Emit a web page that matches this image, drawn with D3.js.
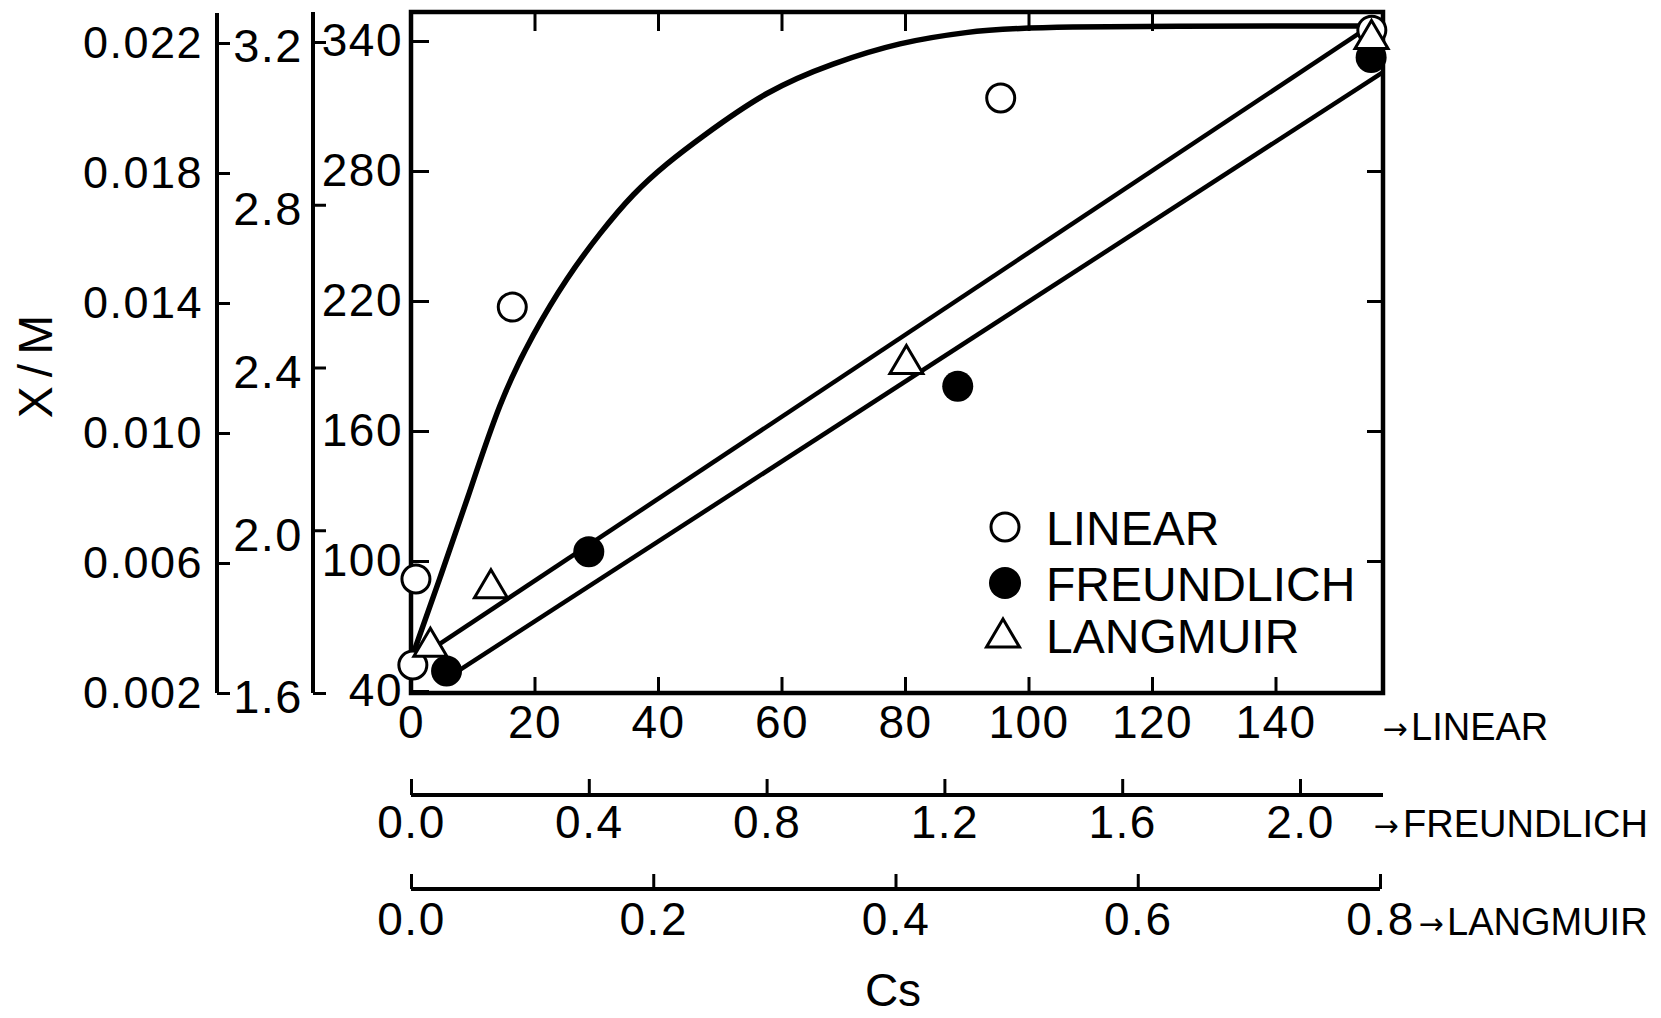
<!DOCTYPE html>
<html lang="en">
<head>
<meta charset="utf-8">
<title>X/M vs Cs isotherms</title>
<script src="https://cdn.jsdelivr.net/npm/d3@7"></script>
<style>
  body { margin: 0; background: #fff; }
  text { font-family: "Liberation Sans", Arial, sans-serif; fill: #000; }
</style>
</head>
<body>
<script>
// --- data ---
var seriesNames = ["LINEAR", "FREUNDLICH", "LANGMUIR"];

// linear: Cs 0-140, X/M 40-340
var linearCs = [0.3, 0.8, 16.4, 95.5, 155.6];
var linearXM = [52, 91.7, 217.2, 313.7, 345];
var linearCurveCs = [0.16, 4.7, 9.1, 14.4, 19.8, 25.3, 30.6, 36.0, 41.5, 46.8, 57.7, 68.3, 79.2, 90.0, 99.9, 153.4];
var linearCurveXM = [55.7, 92.2, 128.2, 174.3, 205.2, 231.1, 251.4, 269.8, 283.7, 295.2, 317.4, 329.8, 339.5, 344.2, 346.9, 346.9];

// freundlich: Cs 0-2.0, X/M 1.6-3.2
var freundlichCs = [0.08, 0.40, 1.23, 2.16];
var freundlichXM = [1.654, 1.947, 2.354, 3.162];
var freundlichFitCs = [0.103, 2.187];
var freundlichFitXM = [1.652, 3.126];

// langmuir: Cs 0-0.8, X/M 0.002-0.022
var langmuirCs = [0.016, 0.066, 0.409, 0.793];
var langmuirXM = [0.0035, 0.0053, 0.0122, 0.0222];
var langmuirFitCs = [0.020, 0.782];
var langmuirFitXM = [0.00342, 0.02228];

// tick values
var linearXTicks = [0, 20, 40, 60, 80, 100, 120, 140];
var linearYTicks = [40, 100, 160, 220, 280, 340];
var freundlichXTicks = [0, 0.4, 0.8, 1.2, 1.6, 2.0];
var freundlichYTicks = [1.6, 2.0, 2.4, 2.8, 3.2];
var langmuirXTicks = [0, 0.2, 0.4, 0.6, 0.8];
var langmuirYTicks = [0.002, 0.006, 0.010, 0.014, 0.018, 0.022];

var w = 1661, h = 1018;
var plotLeft = 411, plotRight = 1383, plotTop = 12, plotBottom = 693;

var xLin = d3.scaleLinear().domain([0, 140]).range([plotLeft, 1275.5]);
var yLin = d3.scaleLinear().domain([40, 340]).range([691, 41]);
var xFr = d3.scaleLinear().domain([0, 2.0]).range([plotLeft, 1300]);
var yFr = d3.scaleLinear().domain([1.6, 3.2]).range([693, 42]);
var xLa = d3.scaleLinear().domain([0, 0.8]).range([plotLeft, 1380]);
var yLa = d3.scaleLinear().domain([0.002, 0.022]).range([693, 43]);

var svg = d3.select("body").append("svg")
  .attr("width", w)
  .attr("height", h);

function styleAxis(g, fs) {
  g.attr("font-family", null).attr("font-size", null);
  g.select(".domain").remove();
  g.selectAll(".tick line").attr("stroke", "#000").attr("stroke-width", 3);
  g.selectAll(".tick text")
    .style("font-size", fs + "px")
    .style("letter-spacing", "1.5px");
}

// main frame axes
svg.append("g")
  .attr("transform", "translate(" + plotLeft + ",0)")
  .call(d3.axisLeft(yLin).tickValues(linearYTicks).tickSize(-18).tickPadding(8).tickFormat(d3.format("d")))
  .call(styleAxis, 46);

svg.append("g")
  .attr("transform", "translate(0," + plotBottom + ")")
  .call(d3.axisBottom(xLin).tickValues(linearXTicks).tickSize(-16).tickPadding(12).tickFormat(d3.format("d")))
  .call(styleAxis, 46);

svg.append("g")
  .attr("transform", "translate(0," + plotTop + ")")
  .call(d3.axisTop(xLin).tickValues(linearXTicks.filter(function(d) { return d > 0 && d < 140; })).tickSize(-19).tickFormat(""))
  .call(styleAxis, 46);

svg.append("g")
  .attr("transform", "translate(" + plotRight + ",0)")
  .call(d3.axisRight(yLin).tickValues(linearYTicks.filter(function(d) { return d > 40 && d < 340; })).tickSize(-16).tickFormat(""))
  .call(styleAxis, 46);

svg.append("rect")
  .attr("x", plotLeft).attr("y", plotTop)
  .attr("width", plotRight - plotLeft).attr("height", plotBottom - plotTop)
  .attr("fill", "none").attr("stroke", "#000").attr("stroke-width", 4.5);

// freundlich y axis
var gFy = svg.append("g")
  .attr("transform", "translate(313,0)")
  .call(d3.axisLeft(yFr).tickValues(freundlichYTicks).tickSize(-13).tickPadding(10).tickFormat(d3.format(".1f")))
  .call(styleAxis, 47);
gFy.append("line").attr("x1", 0).attr("x2", 0).attr("y1", 12).attr("y2", 693)
  .attr("stroke", "#000").attr("stroke-width", 4);
gFy.selectAll(".tick text").attr("dy", "0.42em");

// langmuir y axis
var gLy = svg.append("g")
  .attr("transform", "translate(217,0)")
  .call(d3.axisLeft(yLa).tickValues(langmuirYTicks).tickSize(-13).tickPadding(14).tickFormat(d3.format(".3f")))
  .call(styleAxis, 45);
gLy.append("line").attr("x1", 0).attr("x2", 0).attr("y1", 13).attr("y2", 693)
  .attr("stroke", "#000").attr("stroke-width", 4);

// freundlich x axis
var gFx = svg.append("g")
  .attr("transform", "translate(0,795)")
  .call(d3.axisBottom(xFr).tickValues(freundlichXTicks).tickSize(-16).tickPadding(10).tickFormat(d3.format(".1f")))
  .call(styleAxis, 46);
gFx.append("line").attr("x1", plotLeft).attr("x2", plotRight).attr("y1", 0).attr("y2", 0)
  .attr("stroke", "#000").attr("stroke-width", 4);

// langmuir x axis
var gLx = svg.append("g")
  .attr("transform", "translate(0,889)")
  .call(d3.axisBottom(xLa).tickValues(langmuirXTicks).tickSize(-15).tickPadding(13).tickFormat(d3.format(".1f")))
  .call(styleAxis, 46);
gLx.append("line").attr("x1", plotLeft).attr("x2", 1380).attr("y1", 0).attr("y2", 0)
  .attr("stroke", "#000").attr("stroke-width", 4);

// axis suffixes
var suffixX = [1395, 1386, 1431];
var suffixWordX = [1411, 1403, 1447];
var suffixY = [740, 837, 935];
seriesNames.forEach(function(name, i) {
  svg.append("text").attr("x", suffixX[i]).attr("y", suffixY[i] - 1)
    .attr("text-anchor", "middle")
    .style("font-family", "'DejaVu Sans', sans-serif")
    .style("font-size", "30px").text("\u2192");
  svg.append("text").attr("x", suffixWordX[i]).attr("y", suffixY[i])
    .style("font-size", "38px").text(name);
});

// titles
svg.append("text")
  .attr("x", 893).attr("y", 1006)
  .attr("text-anchor", "middle")
  .style("font-size", "46px")
  .text("Cs");

svg.append("text")
  .attr("transform", "translate(52,362) rotate(-90)")
  .attr("text-anchor", "middle")
  .style("font-size", "48px")
  .style("letter-spacing", "9px")
  .text("X/M");

// lines
var linLine = d3.line()
  .x(function(d) { return xLin(d[0]); })
  .y(function(d) { return yLin(d[1]); })
  .curve(d3.curveBasis);

svg.append("path")
  .datum(d3.zip(linearCurveCs, linearCurveXM))
  .attr("d", linLine)
  .attr("fill", "none").attr("stroke", "#000").attr("stroke-width", 5.5);

svg.append("path")
  .datum(d3.zip(freundlichFitCs, freundlichFitXM))
  .attr("d", d3.line().x(function(d) { return xFr(d[0]); }).y(function(d) { return yFr(d[1]); }))
  .attr("fill", "none").attr("stroke", "#000").attr("stroke-width", 4.5);

svg.append("path")
  .datum(d3.zip(langmuirFitCs, langmuirFitXM))
  .attr("d", d3.line().x(function(d) { return xLa(d[0]); }).y(function(d) { return yLa(d[1]); }))
  .attr("fill", "none").attr("stroke", "#000").attr("stroke-width", 4.5);

// markers
var triangle = "M0,-16 L16.5,12 L-16.5,12 Z";

svg.selectAll("circle.fr")
  .data(d3.zip(freundlichCs, freundlichXM))
  .enter().append("circle")
  .attr("class", "fr")
  .attr("cx", function(d) { return xFr(d[0]); })
  .attr("cy", function(d) { return yFr(d[1]); })
  .attr("r", 15.5)
  .attr("fill", "#000");

svg.selectAll("circle.lin")
  .data(d3.zip(linearCs, linearXM))
  .enter().append("circle")
  .attr("class", "lin")
  .attr("cx", function(d) { return xLin(d[0]); })
  .attr("cy", function(d) { return yLin(d[1]); })
  .attr("r", 14)
  .attr("fill", "#fff").attr("stroke", "#000").attr("stroke-width", 3);

svg.selectAll("path.la")
  .data(d3.zip(langmuirCs, langmuirXM))
  .enter().append("path")
  .attr("class", "la")
  .attr("d", triangle)
  .attr("transform", function(d) { return "translate(" + xLa(d[0]) + "," + yLa(d[1]) + ")"; })
  .attr("fill", "#fff").attr("stroke", "#000").attr("stroke-width", 3);

// legend
var legendY = [527, 583, 635];
var legend = svg.append("g");
legend.append("circle").attr("cx", 1005).attr("cy", legendY[0]).attr("r", 14)
  .attr("fill", "#fff").attr("stroke", "#000").attr("stroke-width", 3);
legend.append("circle").attr("cx", 1005).attr("cy", legendY[1]).attr("r", 16)
  .attr("fill", "#000");
legend.append("path").attr("d", triangle)
  .attr("transform", "translate(1003," + legendY[2] + ")")
  .attr("fill", "#fff").attr("stroke", "#000").attr("stroke-width", 3);
seriesNames.forEach(function(name, i) {
  legend.append("text")
    .attr("x", 1046).attr("y", legendY[i] + 18)
    .style("font-size", "48px")
    .text(name);
});
</script>
</body>
</html>
